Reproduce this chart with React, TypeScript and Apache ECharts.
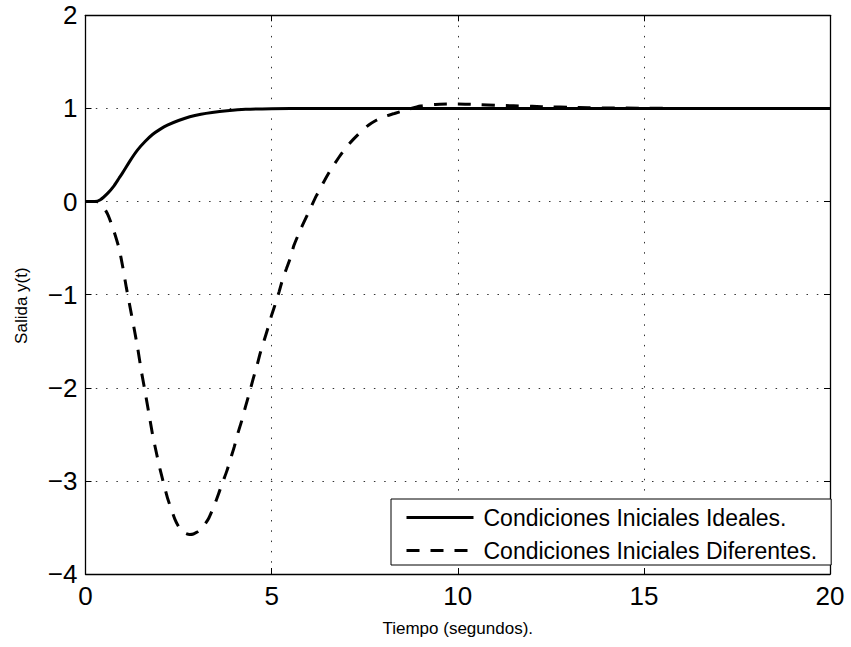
import React, { useEffect, useRef } from "react";
import * as echarts from "echarts";

const xTicks = [0, 5, 10, 15, 20];
const yTicks = [-4, -3, -2, -1, 0, 1, 2];

const seriesNames = [
  "Condiciones Iniciales Ideales.",
  "Condiciones Iniciales Diferentes.",
];

const tIdeal = [0, 0.25, 0.4, 0.6, 0.75, 0.9, 1.0, 1.2, 1.4, 1.6, 1.8, 2.0, 2.2, 2.5, 2.8, 3.1, 3.4, 3.8, 4.3, 5, 6, 8, 12, 16, 20];
const yIdeal = [0, 0, 0.02, 0.09, 0.16, 0.25, 0.31, 0.44, 0.555, 0.645, 0.72, 0.775, 0.82, 0.87, 0.91, 0.938, 0.957, 0.975, 0.99, 0.997, 1.0, 1.0, 1.0, 1.0, 1.0];

const tDiff = [0, 0.3, 0.45, 0.6, 0.75, 0.9, 1.0, 1.1, 1.2, 1.3, 1.4, 1.5, 1.6, 1.7, 1.8, 1.9, 2.0, 2.1, 2.2, 2.3, 2.4, 2.5, 2.6, 2.7, 2.8, 2.9, 3.0, 3.1, 3.2, 3.3, 3.4, 3.5, 3.6, 3.7, 3.8, 3.9, 4.0, 4.1, 4.2, 4.3, 4.4, 4.5, 4.6, 4.7, 4.8, 4.9, 5.0, 5.1, 5.2, 5.3, 5.4, 5.5, 5.6, 5.8, 6.0, 6.2, 6.4, 6.6, 6.8, 7.0, 7.2, 7.4, 7.6, 7.8, 8.0, 8.3, 8.6, 9.0, 9.4, 9.8, 10.2, 10.6, 11.0, 11.5, 12.0, 12.5, 13.0, 13.5, 14, 15, 16, 20];
const yDiff = [0, 0, -0.04, -0.14, -0.3, -0.5, -0.7, -0.93, -1.14, -1.35, -1.57, -1.82, -2.04, -2.27, -2.5, -2.69, -2.87, -3.03, -3.18, -3.3, -3.41, -3.49, -3.54, -3.565, -3.575, -3.57, -3.55, -3.52, -3.47, -3.41, -3.32, -3.22, -3.11, -3.0, -2.89, -2.76, -2.63, -2.48, -2.35, -2.2, -2.06, -1.91, -1.77, -1.62, -1.49, -1.36, -1.22, -1.1, -0.97, -0.83, -0.72, -0.61, -0.47, -0.28, -0.11, 0.06, 0.21, 0.35, 0.47, 0.58, 0.67, 0.75, 0.82, 0.87, 0.91, 0.945, 0.982, 1.025, 1.043, 1.047, 1.046, 1.04, 1.034, 1.028, 1.022, 1.016, 1.012, 1.008, 1.005, 1.002, 1.0, 1.0];

const FONT = "'Liberation Sans', Arial, Helvetica, sans-serif";
const fmtNum = (v: number) => String(v).replace("-", "\u2212");

export default function App() {
  const ref = useRef<HTMLDivElement>(null);
  useEffect(() => {
    if (!ref.current) return;
    const chart = echarts.init(ref.current, undefined, { renderer: "svg" });
    const gridLine = {
      show: true,
      lineStyle: { color: "#333", width: 1, type: [1.5, 8.8] as any },
    };
    const baseAxis = {
      type: "value" as const,
      axisLine: { show: true, onZero: false, lineStyle: { color: "#000", width: 1.3 } },
      axisTick: { show: true, inside: true, length: 6, lineStyle: { color: "#000", width: 1 } },
    };
    chart.setOption({
      animation: false,
      backgroundColor: "#fff",
      grid: { left: 85.5, top: 15.3, right: 21, bottom: 73, containLabel: false },
      xAxis: [
        {
          ...baseAxis,
          position: "bottom",
          min: xTicks[0],
          max: xTicks[xTicks.length - 1],
          interval: 5,
          splitLine: gridLine,
          axisLabel: { color: "#000", fontSize: 26, fontFamily: FONT, margin: 9, formatter: fmtNum },
          name: "Tiempo (segundos).",
          nameLocation: "middle",
          nameGap: 46,
          nameTextStyle: { color: "#000", fontSize: 17, fontFamily: FONT },
        },
        {
          ...baseAxis,
          position: "top",
          min: xTicks[0],
          max: xTicks[xTicks.length - 1],
          interval: 5,
          splitLine: { show: false },
          axisLabel: { show: false },
        },
      ],
      yAxis: [
        {
          ...baseAxis,
          position: "left",
          min: yTicks[0],
          max: yTicks[yTicks.length - 1],
          interval: 1,
          splitLine: gridLine,
          axisLabel: { color: "#000", fontSize: 26, fontFamily: FONT, margin: 8, formatter: fmtNum },
          name: "Salida y(t)",
          nameLocation: "middle",
          nameGap: 56,
          nameTextStyle: { color: "#000", fontSize: 17, fontFamily: FONT, padding: [0, 22, 0, 0] },
        },
        {
          ...baseAxis,
          position: "right",
          min: yTicks[0],
          max: yTicks[yTicks.length - 1],
          interval: 1,
          splitLine: { show: false },
          axisLabel: { show: false },
        },
      ],
      legend: {
        left: 391,
        top: 499,
        orient: "vertical",
        backgroundColor: "#fff",
        borderColor: "#000",
        borderWidth: 1,
        borderRadius: 0,
        padding: [7, 14, 3, 14],
        itemWidth: 67,
        itemHeight: 22,
        itemGap: 10,
        itemStyle: { opacity: 0 },
        lineStyle: { width: 3 },
        textStyle: { color: "#000", fontSize: 23, fontFamily: FONT, lineHeight: 22, padding: [0, 0, 0, 5] },
        data: seriesNames,
      },
      series: [
        {
          name: seriesNames[1],
          type: "line",
          xAxisIndex: 0,
          yAxisIndex: 0,
          showSymbol: false,
          symbol: "none",
          smooth: 0.2,
          data: tDiff.map((t, i) => [t, yDiff[i]]),
          lineStyle: { color: "#000", width: 3, type: [13, 11] as any },
          itemStyle: { color: "#000" },
        },
        {
          name: seriesNames[0],
          type: "line",
          xAxisIndex: 0,
          yAxisIndex: 0,
          showSymbol: false,
          symbol: "none",
          smooth: 0.2,
          data: tIdeal.map((t, i) => [t, yIdeal[i]]),
          lineStyle: { color: "#000", width: 3 },
          itemStyle: { color: "#000" },
        },
      ],
    });
    return () => chart.dispose();
  }, []);
  return (
    <div
      ref={ref}
      style={{ position: "absolute", left: 0, top: 0, width: 851, height: 647 }}
    />
  );
}
